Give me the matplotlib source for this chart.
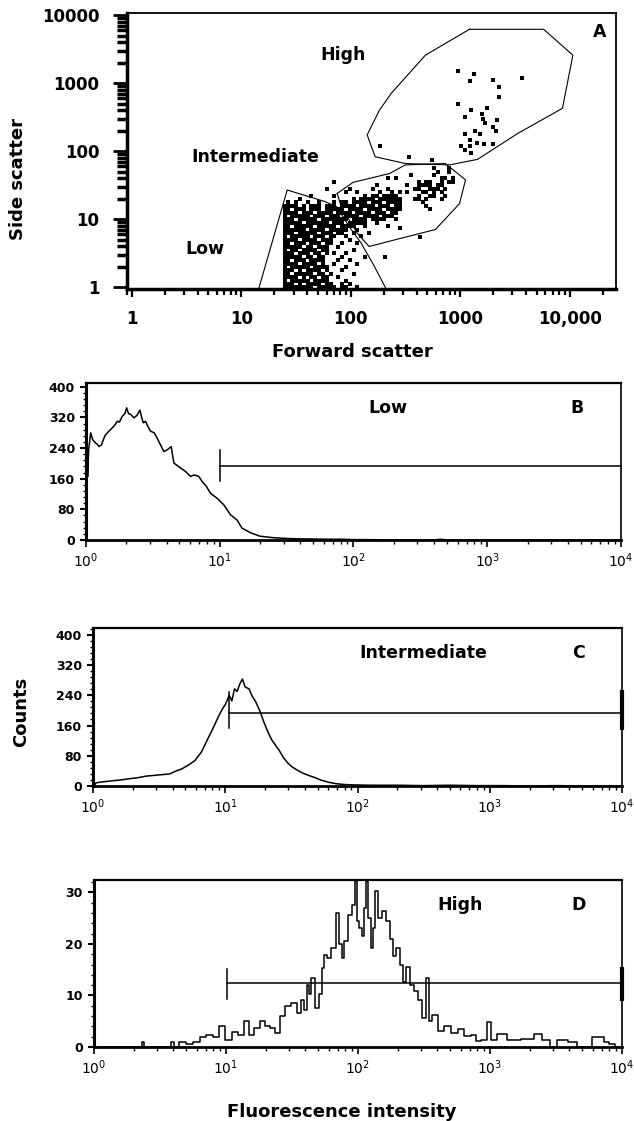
import numpy as np
import matplotlib.pyplot as plt
from matplotlib.ticker import FixedLocator, LogLocator, MultipleLocator, NullFormatter

plt.rcParams['font.family'] = ['DejaVu Sans']

# ---------- panel A: forward / side scatter ----------
# gates (forward scatter, side scatter)
high_fsc = [1213, 5781, 10690, 8590, 3342, 1439, 796, 315, 167, 154, 141, 182, 234, 480, 1213]
high_ssc = [6170, 6170, 2570, 427, 182, 76, 63, 66, 83, 117, 174, 398, 708, 2570, 6170]
mid_fsc = [75, 105, 225, 315, 731, 1117, 984, 593, 277, 147, 115, 82, 75]
mid_ssc = [24, 35, 47, 63, 66, 38, 17, 7.1, 5.2, 4.0, 6.2, 15, 24]
low_fsc = [14.5, 26.2, 58.3, 75, 96.6, 124, 160, 207]
low_ssc = [1, 27, 18.2, 15.1, 7.8, 4.5, 2.2, 1]

# dot plot of the low / intermediate cells, read as a cell map
# column -> log10 FSC = 1.36 + 0.035*col, row -> log10 SSC = 0.05*row (top row first)
map_fsc0 = 1.36
map_dfsc = 0.035
map_dssc = 0.05
dot_rows = [
    ".......... .......... .......... .......... #...#..",
    ".......... .......... .......... .......... .#..#..",
    ".......... .......... .......... ....#..... #......",
    ".......... .......... ........#. #......... ..##.#.",
    ".......... ....#..... .......... ......#.## ..#.##.",
    ".......... .......... .....#.... ...#..#### .##....",
    ".......... ..#.....#. ....#...#. .....##..# ##.#...",
    ".......... .......#.. #.....#..# .#.#...##. #.#....",
    "........#. ....#..... ..#.##.### #.....#..# #..#...",
    ".....#.... .........# .####.#### ##...##.#. ..#....",
    "..#.#..#.. #...#.##.# ###.###.## ##.....#.. .......",
    ".####.#.## #.###.#### .####.###. ##......#. .......",
    ".##.###.## #.#####.## ##.####.## ##.......# .......",
    ".####.###. ####.####. ####.###.# #......... .......",
    ".#.#####.# ##.###.### #.####.### .......... .......",
    ".###.##### .#######.# ###.####.. #......... .......",
    ".#####.### ###.###.## ###..#.... .......... .......",
    ".##.#####. #####.#### ..#.....#. .......... .......",
    ".######.## ##.#####.. #......... .......... .......",
    ".###.##### .###.##..# ...#...... .......... .......",
    ".#.#####.# ##.##..#.. .#........ .......... .......",
    ".####.#### .###....#. .......... .......... .......",
    ".##.###.## #.##..#... #......... .......... .......",
    ".#####.##. ###..#.... .......... .......... .......",
    ".#.##.#### .##......# .......... .......... .......",
    ".###.###.# #.#.#..#.. .......... .......... .......",
    ".#####.##. ##....#... ..#....... .......... .......",
    ".##.###.## ##...#..#. .......... .......... .......",
    ".####.#### .#..#..... #......... .......... .......",
    ".#.#####.# ###....#.. .......... .......... .......",
    ".###.#.### #.#...#... .......... .......... .......",
    ".##.#####. ##.#.....# .......... .......... .......",
    ".####.#.## .##..#.... .......... .......... .......",
    ".#.#####.# ###....#.. .......... .......... .......",
    ".###.#.### #.##..#.#. .......... .......... .......",
    ".########. #####.##.. #......... .......... .......",
]
# single events (log10 FSC, log10 SSC)
high_dots_fsc = [2.98, 3.127, 3.09, 3.30, 3.563, 3.356, 3.356, 2.98, 3.097, 3.24, 3.195, 3.042, 3.21, 3.225,
                 3.332, 3.30, 3.133, 3.18, 3.042, 3.09, 3.15, 3.22, 3.30, 3.01, 3.09, 3.04, 3.10, 3.33]
high_dots_ssc = [3.18, 3.13, 3.03, 3.04, 3.08, 2.95, 2.79, 2.69, 2.61, 2.64, 2.55, 2.505, 2.48, 2.41,
                 2.46, 2.36, 2.295, 2.25, 2.25, 2.16, 2.12, 2.11, 2.11, 2.08, 2.08, 2.02, 1.97, 2.29]
stray_fsc = [2.31, 2.63, 2.53, 2.27, 2.45, 2.74]
stray_ssc = [0.45, 0.74, 1.92, 2.07, 0.87, 1.87]

a_ticks = [1, 10, 100, 1000, 10000]
a_xlabels = ['1', '10', '100', '1000', '10,000']
a_ylabels = ['1', '10', '100', '1000', '10000']

# ---------- panels B-D: fluorescence histograms (log10 intensity, counts) ----------
b_log = [0.0, 0.004, 0.008, 0.012, 0.02, 0.035, 0.05, 0.072, 0.085, 0.097, 0.115, 0.134, 0.147, 0.165,
         0.197, 0.215, 0.234, 0.25, 0.271, 0.29, 0.304, 0.318, 0.334, 0.358, 0.38, 0.403, 0.415, 0.428,
         0.445, 0.465, 0.483, 0.51, 0.532, 0.555, 0.582, 0.61, 0.637, 0.657, 0.68, 0.707, 0.744, 0.781,
         0.81, 0.843, 0.868, 0.9, 0.931, 0.98, 1.03, 1.08, 1.13, 1.166, 1.23, 1.30, 1.4, 1.5, 1.6, 1.7,
         1.8, 1.9, 2.0, 2.1, 2.2, 2.3, 2.4, 2.5, 2.6, 2.65, 2.7, 2.8, 3.0, 3.5, 4.0]
b_counts = [290, 180, 270, 165, 236, 280, 262, 253, 250, 244, 248, 266, 275, 282, 293, 300, 310, 308, 323,
            330, 345, 330, 328, 319, 325, 339, 322, 306, 310, 295, 284, 280, 266, 250, 231, 236, 244, 201,
            195, 188, 179, 166, 170, 166, 153, 140, 122, 109, 92, 66, 52, 31, 19, 10, 6, 4, 3, 2.5, 2, 2,
            1, 1, 0.5, 0, 0.5, 0, 0, 2, 0, 0, 0, 0, 0]

c_log = [0.0, 0.005, 0.01, 0.02, 0.05, 0.1, 0.15, 0.21, 0.27, 0.34, 0.4, 0.46, 0.52, 0.58, 0.63, 0.67,
         0.72, 0.77, 0.82, 0.86, 0.89, 0.92, 0.95, 0.98, 1.0, 1.03, 1.05, 1.07, 1.09, 1.11, 1.13, 1.15,
         1.18, 1.2, 1.23, 1.26, 1.29, 1.32, 1.35, 1.38, 1.41, 1.44, 1.47, 1.5, 1.53, 1.58, 1.63, 1.68,
         1.72, 1.78, 1.84, 1.9, 1.96, 2.1, 2.3, 2.5, 2.7, 2.9, 3.1, 3.3, 3.5, 3.7, 3.9, 4.0]
c_counts = [75, 40, 0, 8, 10, 12, 14, 16, 19, 22, 26, 28, 30, 32, 40, 45, 55, 67, 90, 119, 140, 162, 185,
            205, 215, 240, 225, 257, 250, 270, 283, 262, 257, 240, 223, 200, 171, 145, 123, 108, 93, 75,
            62, 52, 45, 35, 28, 22, 16, 10, 6, 4, 3, 2, 2, 1, 2, 1, 1, 0, 1, 0, 0, 0]

d_log = [0.0, 0.35, 0.37, 0.39, 0.57, 0.59, 0.62, 0.67, 0.72, 0.78, 0.82, 0.87, 0.93, 0.97, 1.02, 1.07,
         1.108, 1.16, 1.185, 1.235, 1.273, 1.31, 1.36, 1.387, 1.425, 1.463, 1.513, 1.559, 1.577, 1.602,
         1.62, 1.64, 1.65, 1.69, 1.716, 1.737, 1.754, 1.779, 1.817, 1.843, 1.868, 1.888, 1.906, 1.944,
         1.969, 1.987, 2.0, 2.02, 2.037, 2.057, 2.065, 2.083, 2.108, 2.12, 2.14, 2.16, 2.197, 2.222, 2.26,
         2.273, 2.3, 2.336, 2.349, 2.374, 2.412, 2.437, 2.475, 2.5, 2.526, 2.55, 2.577, 2.627, 2.678,
         2.728, 2.78, 2.83, 2.88, 2.906, 2.96, 2.99, 3.03, 3.08, 3.17, 3.29, 3.37, 3.42, 3.48, 3.54, 3.63,
         3.69, 3.84, 3.88, 3.92, 3.97, 4.0]
d_counts = [0, 0, 1, 0, 0, 1, 0, 1, 0.5, 1, 2, 2.3, 2, 4, 1.3, 3, 2.4, 5, 2.4, 3.7, 5, 4, 3.7, 2.7, 6,
            7.9, 8.5, 6.6, 9.2, 7.2, 12.1, 10.2, 13.4, 7.6, 10.2, 15.3, 17.9, 17.3, 19.2, 26, 19.9, 17.3,
            20.5, 25.7, 27.6, 32.2, 24.4, 23.1, 21.5, 27, 32.2, 25, 19.2, 23.1, 30.2, 25, 26.3, 24.4, 20.9,
            17.7, 19.2, 15.9, 12.7, 15.6, 12.1, 10.8, 9.2, 5.6, 13.4, 5, 6.3, 3.1, 4, 2.8, 3.4, 2.1, 2.4,
            1.1, 1.3, 4.8, 1.3, 2.6, 1.3, 1.6, 2.6, 1.3, 0, 1.3, 1, 0, 2, 1, 0.6, 0, 0]

# marker gates: start, level, tick low, tick high
gate_start = [10, 10.7, 10.2]
gate_level = [194, 194, 12.4]
gate_lo = [155, 153, 9.4]
gate_hi = [234, 248, 15.2]

fl_ticks = [1, 10, 100, 1000, 10000]
fl_labels = [r'$10^{0}$', r'$10^{1}$', r'$10^{2}$', r'$10^{3}$', r'$10^{4}$']

W, H = 634, 1121
fig = plt.figure(figsize=(W / 100, H / 100), dpi=100)


def box(l, t, r, b):
    return [l / W, 1 - b / H, (r - l) / W, (b - t) / H]


axA = fig.add_axes(box(127, 13, 616, 289))
axB = fig.add_axes(box(86, 383, 621, 540))
axC = fig.add_axes(box(93, 628, 622, 786))
axD = fig.add_axes(box(94, 880, 622, 1047))

# ---- A ----
axA.set_xscale('log')
axA.set_yscale('log')
axA.set_xlim(0.9, 26500)
axA.set_ylim(0.95, 10700)
for gx, gy in [(high_fsc, high_ssc), (mid_fsc, mid_ssc), (low_fsc, low_ssc)]:
    axA.plot(gx, gy, color='k', lw=0.8)

cell_x, cell_y = [], []
nrow = len(dot_rows)
for i, row in enumerate(dot_rows):
    r = nrow - 1 - i
    for c, ch in enumerate(row.replace(' ', '')):
        if ch == '#':
            cell_x.append(map_fsc0 + c * map_dfsc)
            cell_y.append(r * map_dssc)
axA.scatter(10 ** np.array(cell_x), 10 ** np.array(cell_y), marker='s', s=11, c='k', linewidths=0)
axA.scatter(10 ** np.array(high_dots_fsc), 10 ** np.array(high_dots_ssc), marker='s', s=6, c='k', linewidths=0)
axA.scatter(10 ** np.array(stray_fsc), 10 ** np.array(stray_ssc), marker='s', s=6, c='k', linewidths=0)

axA.xaxis.set_major_locator(FixedLocator(a_ticks))
axA.yaxis.set_major_locator(FixedLocator(a_ticks))
axA.xaxis.set_minor_locator(LogLocator(base=10, subs=range(2, 10)))
axA.yaxis.set_minor_locator(LogLocator(base=10, subs=range(2, 10)))
axA.xaxis.set_minor_formatter(NullFormatter())
axA.yaxis.set_minor_formatter(NullFormatter())
axA.set_xticklabels(a_xlabels, fontweight='bold')
axA.set_yticklabels(a_ylabels, fontweight='bold')
axA.tick_params(axis='x', which='major', direction='out', length=6, width=1.6, pad=9, labelsize=12)
axA.tick_params(axis='x', which='minor', direction='out', length=4, width=1.6)
axA.tick_params(axis='y', which='major', direction='out', length=10, width=2, pad=10, labelsize=12)
axA.tick_params(axis='y', which='minor', direction='out', length=7, width=2.5)
for s in ['left', 'bottom']:
    axA.spines[s].set_linewidth(2.5)
for s in ['top', 'right']:
    axA.spines[s].set_linewidth(1.3)
axA.text(85, 2570, 'High', ha='center', va='center', fontsize=12.5, fontweight='bold')
axA.text(13.3, 83, 'Intermediate', ha='center', va='center', fontsize=12.5, fontweight='bold')
axA.text(4.6, 3.7, 'Low', ha='center', va='center', fontsize=12.5, fontweight='bold')
axA.text(18600, 5600, 'A', ha='center', va='center', fontsize=12.5, fontweight='bold')

# ---- B, C, D ----
panels = [
    (axB, b_log, b_counts, 410, np.arange(0, 401, 80), 16, 'Low', 2.26, 344, 'B', 'default'),
    (axC, c_log, c_counts, 418, np.arange(0, 401, 80), 16, 'Intermediate', 2.5, 352, 'C', 'default'),
    (axD, d_log, d_counts, 32.4, np.arange(0, 31, 10), 2, 'High', 2.77, 27.5, 'D', 'steps-mid'),
]
for k, (ax, lx, cnt, ymax, yt, ymin_step, name, nx, ny, letter, ds) in enumerate(panels):
    ax.plot(10 ** np.array(lx), cnt, color='k', lw=1.1, drawstyle=ds)
    ax.set_xscale('log')
    ax.set_xlim(1, 10000)
    ax.set_ylim(0, ymax)
    ax.set_yticks(yt)
    ax.set_yticklabels([str(v) for v in yt], fontweight='bold')
    ax.yaxis.set_minor_locator(MultipleLocator(ymin_step))
    ax.xaxis.set_major_locator(FixedLocator(fl_ticks))
    ax.xaxis.set_minor_locator(LogLocator(base=10, subs=range(2, 10)))
    ax.xaxis.set_minor_formatter(NullFormatter())
    ax.set_xticklabels(fl_labels)
    ax.tick_params(axis='x', which='major', direction='out', length=5, width=1.2, pad=3, labelsize=10)
    ax.tick_params(axis='x', which='minor', direction='out', length=3, width=1.0)
    ax.tick_params(axis='y', which='major', direction='out', length=4, width=1.5, pad=4, labelsize=9)
    ax.tick_params(axis='y', which='minor', direction='out', length=2.5, width=1.0)
    ax.spines['left'].set_linewidth(2.2)
    ax.spines['bottom'].set_linewidth(2.0)
    ax.spines['top'].set_linewidth(1.6)
    ax.spines['right'].set_linewidth(1.2)
    # marker gate
    ax.plot([gate_start[k], 10000], [gate_level[k], gate_level[k]], color='k', lw=1.1, clip_on=False)
    ax.plot([gate_start[k], gate_start[k]], [gate_lo[k], gate_hi[k]], color='k', lw=1.1)
    if k > 0:
        ax.plot([10000, 10000], [gate_lo[k], gate_hi[k]], color='k', lw=3, clip_on=False)
    ax.text(10 ** nx, ny, name, ha='center', va='center', fontsize=12.5, fontweight='bold')
    ax.text(10 ** 3.67, ny, letter, ha='center', va='center', fontsize=12.5, fontweight='bold')

# axis titles
fig.text(18 / W, 1 - 179 / H, 'Side scatter', rotation=90, ha='center', va='center',
         fontsize=13, fontweight='bold')
fig.text(352 / W, 1 - 352 / H, 'Forward scatter', ha='center', va='center', fontsize=13, fontweight='bold')
fig.text(21 / W, 1 - 712 / H, 'Counts', rotation=90, ha='center', va='center', fontsize=13, fontweight='bold')
fig.text(342 / W, 1 - 1112 / H, 'Fluorescence intensity', ha='center', va='center',
         fontsize=13, fontweight='bold')

fig.savefig('out.png', dpi=100)
